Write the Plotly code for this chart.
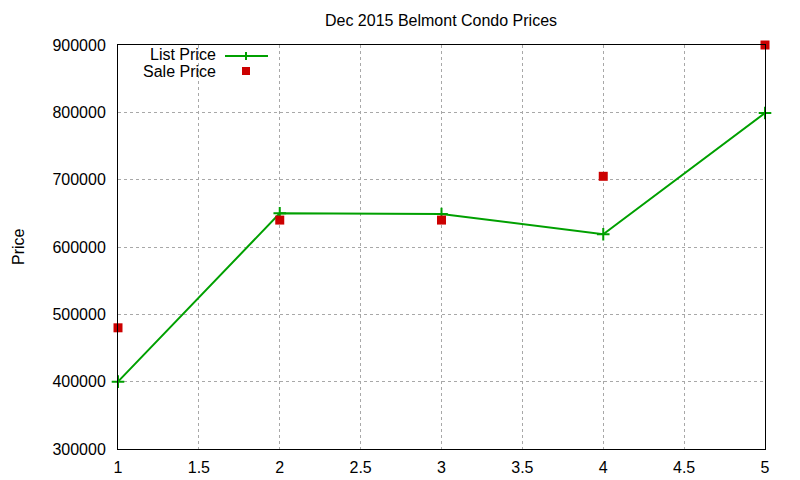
import plotly.graph_objects as go

# Dec 2015 Belmont condo listings, one per unit index
units = [1, 2, 3, 4, 5]
list_price = [400000, 650000, 649000, 619000, 799000]
sale_price = [480000, 640000, 640000, 705000, 900000]

green = "#00a000"
red = "#cc0000"
font = "Liberation Sans, Arial, sans-serif"

# the page body adds an 8px offset, so the figure is 8px smaller
OFF = 8
W, H = 800 - OFF, 480 - OFF
L, R, T, B = 118 - OFF, 35, 45 - OFF, 31
pw = W - L - R
ph = H - T - B
px = lambda v: (v - OFF - L) / pw
py = lambda v: 1 - (v - OFF - T) / ph

fig = go.Figure()

fig.add_trace(go.Scatter(
    x=units, y=list_price, name="List Price", mode="lines+markers",
    line=dict(color=green, width=2),
    marker=dict(symbol="cross-thin", size=9, line=dict(color=green, width=2)),
    cliponaxis=False))

fig.add_trace(go.Scatter(
    x=units, y=sale_price, name="Sale Price", mode="markers",
    marker=dict(symbol="square", size=9, color=red),
    cliponaxis=False))

# gnuplot style key: text right aligned, sample to the right of it
fig.add_annotation(x=px(218), y=py(54), xref="paper", yref="paper", text="List Price",
                   showarrow=False, xanchor="right", yanchor="middle")
fig.add_annotation(x=px(218), y=py(71), xref="paper", yref="paper", text="Sale Price",
                   showarrow=False, xanchor="right", yanchor="middle")
fig.add_shape(type="line", xref="paper", yref="paper", x0=px(225), x1=px(268),
              y0=py(56), y1=py(56), line=dict(color=green, width=2))
fig.add_shape(type="line", xref="paper", yref="paper", x0=px(246), x1=px(246),
              y0=py(52), y1=py(60), line=dict(color=green, width=2))
fig.add_shape(type="rect", xref="paper", yref="paper", x0=px(242), x1=px(250),
              y0=py(67), y1=py(75), line=dict(width=0), fillcolor=red)

# y axis label, placed like gnuplot's
fig.add_annotation(x=px(18), y=py(247), xref="paper", yref="paper", text="Price",
                   textangle=-90, showarrow=False, xanchor="center", yanchor="middle")

fig.update_layout(
    width=W, height=H,
    margin=dict(l=L, r=R, t=T, b=B),
    paper_bgcolor="white", plot_bgcolor="white",
    font=dict(family=font, size=16, color="black"),
    showlegend=False,
    title=dict(text="Dec 2015 Belmont Condo Prices", x=(441 - OFF) / W, xanchor="center",
               y=1 - (20 - OFF) / H, yanchor="middle", font=dict(size=16), automargin=False),
    xaxis=dict(range=[1, 5], dtick=0.5, showgrid=True, gridcolor="#a8a8a8",
               griddash="dot", gridwidth=1, showline=True, linecolor="black",
               linewidth=1, mirror=True, zeroline=False, ticks="", ticklabelstandoff=4,
               automargin=False),
    yaxis=dict(range=[300000, 900000], dtick=100000, showgrid=True, gridcolor="#a8a8a8",
               griddash="dot", gridwidth=1, showline=True, linecolor="black",
               linewidth=1, mirror=True, zeroline=False, ticks="", tickformat="d",
               ticklabelstandoff=8, automargin=False),
)

fig.write_html("out.html")
